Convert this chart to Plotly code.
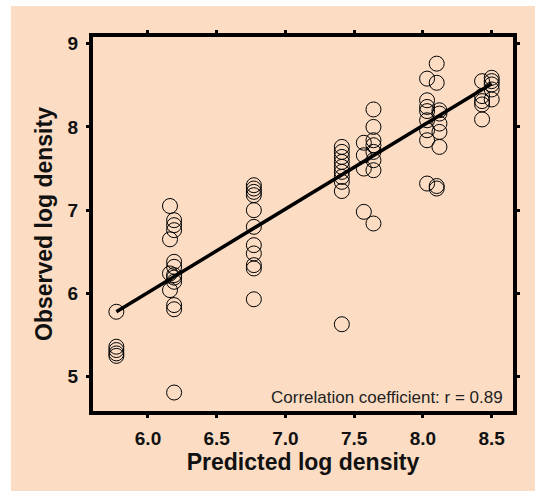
import plotly.graph_objects as go

# Predicted vs observed log density (each row group shares one predicted value)
predicted = (
    [5.77] * 5
    + [6.16] * 4
    + [6.19] * 11
    + [6.77] * 11
    + [7.41] * 10
    + [7.57] * 4
    + [7.64] * 8
    + [8.03] * 8
    + [8.10] * 4
    + [8.12] * 5
    + [8.43] * 5
    + [8.50] * 5
)
observed = (
    [5.78, 5.36, 5.32, 5.28, 5.25]
    + [7.05, 6.65, 6.24, 6.04]
    + [6.88, 6.82, 6.76, 6.38, 6.32, 6.22, 6.19, 6.14, 5.86, 5.81, 4.81]
    + [7.30, 7.26, 7.22, 7.18, 7.00, 6.80, 6.58, 6.48, 6.34, 6.30, 5.93]
    + [7.76, 7.70, 7.64, 7.58, 7.52, 7.46, 7.40, 7.34, 7.23, 5.63]
    + [7.81, 7.66, 7.50, 6.98]
    + [8.21, 8.00, 7.84, 7.78, 7.70, 7.60, 7.48, 6.84]
    + [8.58, 8.32, 8.24, 8.19, 8.08, 7.96, 7.84, 7.32]
    + [8.76, 8.53, 7.29, 7.26]
    + [8.20, 8.16, 8.04, 7.94, 7.76]
    + [8.55, 8.37, 8.31, 8.27, 8.09]
    + [8.59, 8.55, 8.51, 8.45, 8.33]
)

# Fitted line endpoints
fit_x = [5.77, 8.50]
fit_y = [5.78, 8.52]

x_ticks = [6.0, 6.5, 7.0, 7.5, 8.0, 8.5]
y_ticks = [5, 6, 7, 8, 9]
r_label = "Correlation coefficient: r = 0.89"

PEACH = "#FCDDC4"
FONT = "Liberation Sans, Arial, sans-serif"

fig = go.Figure()
fig.add_trace(go.Scatter(
    x=predicted, y=observed, mode="markers",
    marker=dict(symbol="circle-open", size=15, color="black",
                line=dict(width=1, color="black")),
    showlegend=False, hoverinfo="x+y",
))
fig.add_trace(go.Scatter(
    x=fit_x, y=fit_y, mode="lines",
    line=dict(color="black", width=3.5),
    showlegend=False, hoverinfo="skip",
))

axis_common = dict(
    showline=True, linewidth=4, linecolor="black", mirror="ticks",
    ticks="outside", ticklen=3, tickwidth=3, tickcolor="black",
    showgrid=False, zeroline=False,
    tickfont=dict(family=FONT, size=19, color="#111111", weight="bold"),
)

fig.update_layout(
    width=535, height=491,
    margin=dict(l=93, r=22, t=37, b=80, pad=0),
    paper_bgcolor="white",
    plot_bgcolor=PEACH,
    font=dict(family=FONT, color="black"),
    xaxis=dict(
        range=[5.60, 8.655], tickvals=x_ticks,
        ticktext=[f"{v:.1f}" for v in x_ticks],
        title=dict(text="Predicted log density", standoff=6,
                   font=dict(family=FONT, size=23, color="#111111", weight="bold")),
        ticklabelstandoff=4,
        **axis_common,
    ),
    yaxis=dict(
        range=[4.588, 9.08], tickvals=y_ticks,
        ticktext=[str(v) for v in y_ticks],
        title=dict(text="Observed log density", standoff=10,
                   font=dict(family=FONT, size=23, color="#111111", weight="bold")),
        ticklabelstandoff=4,
        **axis_common,
    ),
    shapes=[dict(
        type="rect", xref="paper", yref="paper",
        x0=(11 - 93) / 420, x1=1.1, y0=-0.3, y1=1 + (37 - 6) / 374,
        fillcolor=PEACH, line=dict(width=0), layer="below",
    )],
    annotations=[dict(
        text=r_label, xref="paper", yref="paper", x=1, y=0,
        xanchor="right", yanchor="middle", xshift=-8, yshift=14,
        showarrow=False, font=dict(family=FONT, size=17, color="#222222"),
    )],
)

fig.write_html("out.html")
